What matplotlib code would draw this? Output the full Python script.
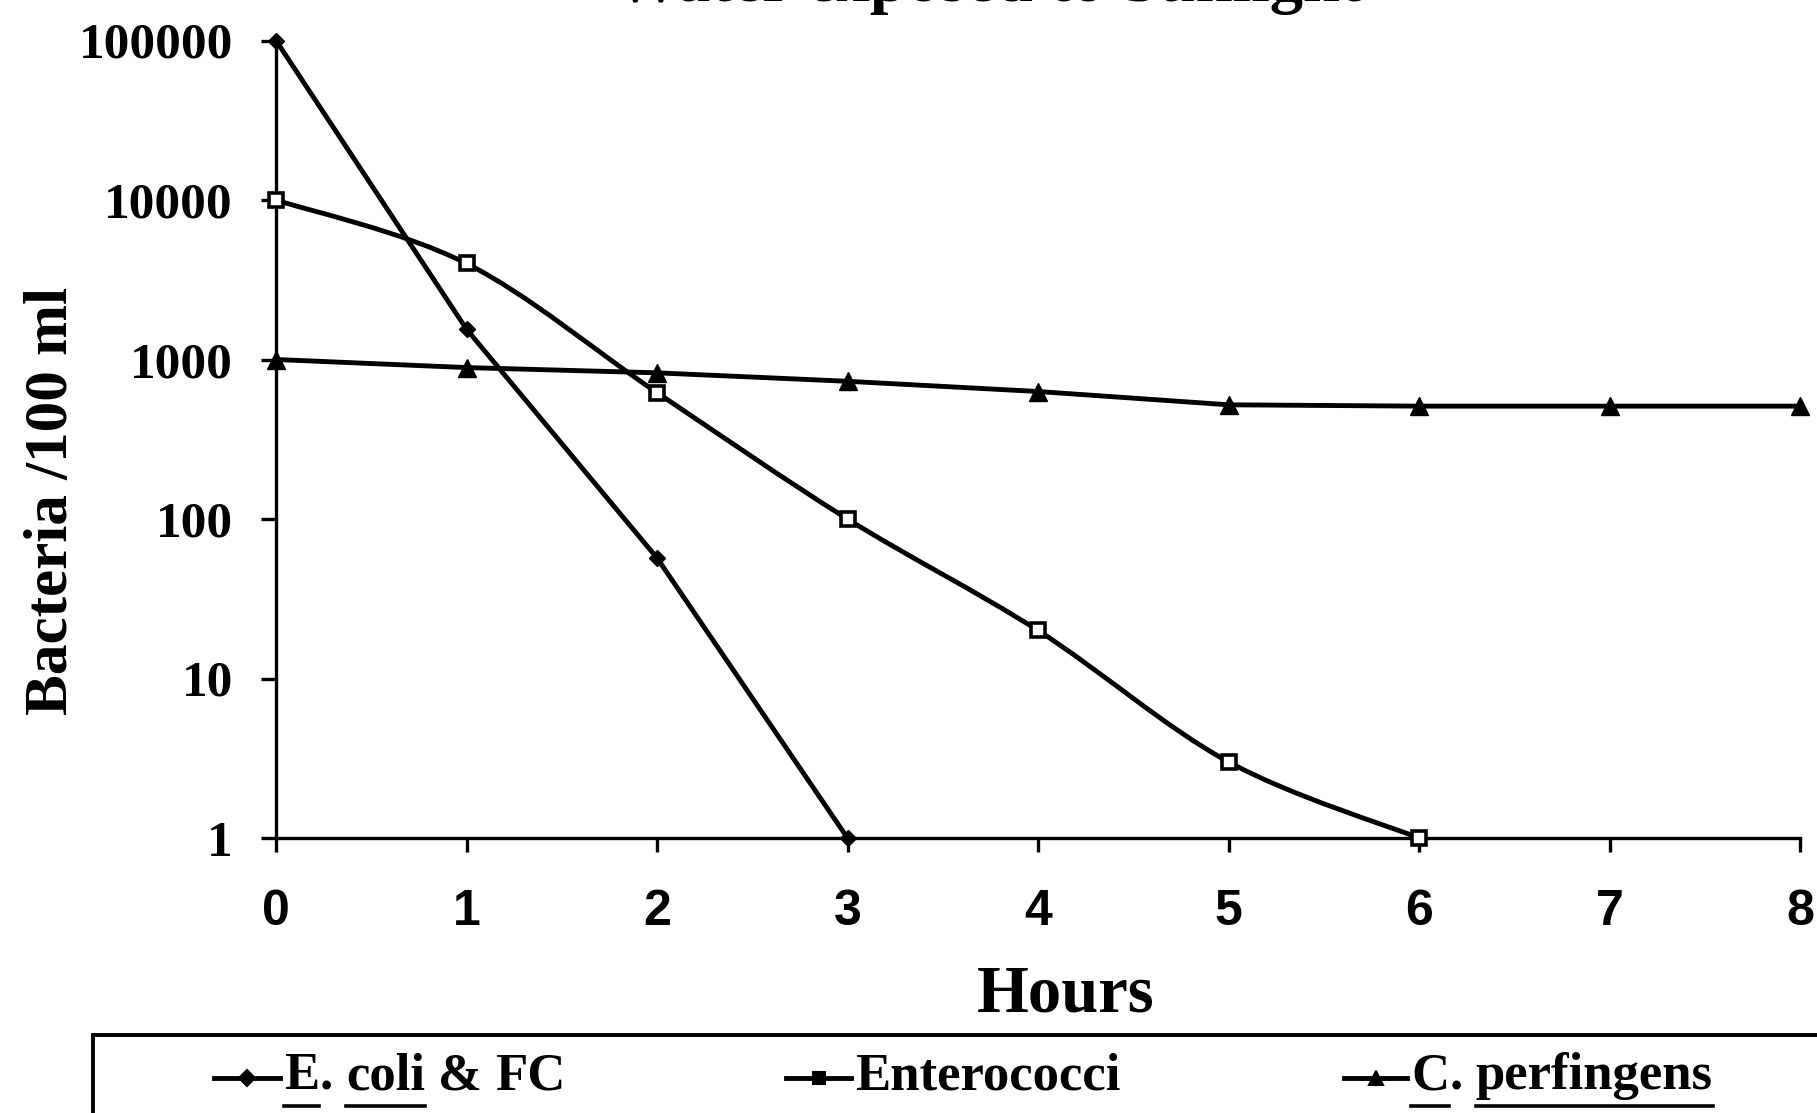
import matplotlib
matplotlib.use('Agg')
import matplotlib.pyplot as plt
import numpy as np
from matplotlib.path import Path
from matplotlib.patches import PathPatch, Rectangle
from matplotlib.lines import Line2D

# Data (bacteria per 100 ml vs hours of sunlight)
hours_ecoli = [0, 1, 2, 3]
ecoli_fc = [100000, 1550, 57, 1]

hours_entero = [0, 1, 2, 3, 4, 5, 6]
enterococci = [10000, 4000, 620, 100, 20, 3, 1]

hours_perf = [0, 1, 2, 3, 4, 5, 6, 7, 8]
c_perfringens = [1000, 890, 825, 730, 630, 520, 510, 510, 510]

x_ticks = [0, 1, 2, 3, 4, 5, 6, 7, 8]
y_ticks = [1, 10, 100, 1000, 10000, 100000]
y_tick_labels = ['1', '10', '100', '1000', '10000', '100000']

W, H = 1817, 1113
SERIF = 'Liberation Serif'
SANS = 'Liberation Sans'


def smooth_path(xs, ys):
    """Excel-style smoothed line: Catmull-Rom segments as cubic Beziers in (x, log y)."""
    lx = np.asarray(xs, dtype=float)
    ly = np.log10(np.asarray(ys, dtype=float))
    n = len(lx)
    verts = [(lx[0], ly[0])]
    codes = [Path.MOVETO]
    for i in range(n - 1):
        p0 = (lx[max(i - 1, 0)], ly[max(i - 1, 0)])
        p1 = (lx[i], ly[i])
        p2 = (lx[i + 1], ly[i + 1])
        p3 = (lx[min(i + 2, n - 1)], ly[min(i + 2, n - 1)])
        c1 = (p1[0] + (p2[0] - p0[0]) / 6, p1[1] + (p2[1] - p0[1]) / 6)
        c2 = (p2[0] - (p3[0] - p1[0]) / 6, p2[1] - (p3[1] - p1[1]) / 6)
        verts += [c1, c2, p2]
        codes += [Path.CURVE4] * 3
    verts = [(vx, 10 ** vy) for vx, vy in verts]
    return Path(verts, codes)


fig = plt.figure(figsize=(W / 100, H / 100), dpi=100)
ax = fig.add_axes([276 / W, 1 - 838 / H, (1800 - 276) / W, (838 - 40.5) / H])

ax.set_yscale('log')
ax.set_xlim(0, 8)
ax.set_ylim(1, 100000)

lw = 3.5
ax.plot(hours_ecoli, ecoli_fc, color='black', lw=lw, marker='D', ms=8,
        mfc='black', mec='black', clip_on=False, zorder=4)

patch = PathPatch(smooth_path(hours_entero, enterococci), fc='none', ec='black',
                  lw=lw, clip_on=False, zorder=3)
ax.add_patch(patch)
ax.plot(hours_entero, enterococci, ls='none', marker='s', ms=10.5, mfc='white',
        mec='black', mew=2.6, clip_on=False, zorder=5)

ax.plot(hours_perf, c_perfringens, color='black', lw=lw, marker='^', ms=13,
        mfc='black', mec='black', clip_on=False, zorder=4)

# axes styling
for side in ['top', 'right']:
    ax.spines[side].set_visible(False)
for side in ['left', 'bottom']:
    ax.spines[side].set_linewidth(2.4)
ax.minorticks_off()
ax.set_yticks(y_ticks)
ax.set_yticklabels(y_tick_labels, fontfamily=SERIF, fontweight='bold', fontsize=37)
ax.set_xticks(x_ticks)
ax.set_xticklabels([str(t) for t in x_ticks], fontfamily=SANS, fontweight='bold',
                   fontsize=36)
ax.tick_params(axis='y', direction='out', length=11, width=2.4, pad=20)
ax.tick_params(axis='x', direction='out', length=10, width=2.4, pad=27)

# title (only its lower edge survives at the top of the scan)
fig.text(988 / W, 1 - 1 / H, 'Water exposed to Sunlight', ha='center', va='baseline',
         fontfamily=SERIF, fontweight='bold', fontsize=48)

fig.text(1066 / W, 101 / H, 'Hours', ha='center', va='baseline',
         fontfamily=SERIF, fontweight='bold', fontsize=48)
fig.text(52 / W, 612 / H, 'Bacteria /100 ml', ha='center', va='center', rotation=90,
         fontfamily=SERIF, fontweight='bold', fontsize=44)

# legend box, running off the bottom-right corner as in the scan
fig.patches.append(Rectangle((93 / W, -0.05), 1.1, (1113 - 1035) / H + 0.05,
                             transform=fig.transFigure, fill=False, ec='black',
                             lw=2.8, clip_on=False))

renderer = fig.canvas.get_renderer()
text_kw = dict(fontfamily=SERIF, fontweight='bold', fontsize=38)
base_y = 24  # legend baseline, px from bottom


def text_width(s):
    t = fig.text(0, 0, s, **text_kw)
    w = t.get_window_extent(renderer).width
    t.remove()
    return w


space_w = text_width('a a') - text_width('aa')


def legend_entry(x_line, x_text, pieces, marker, ms, mfc):
    fig.lines.append(Line2D([x_line / W, (x_text - 4) / W], [(base_y + 11) / H] * 2,
                            transform=fig.transFigure, color='black', lw=lw))
    fig.lines.append(Line2D([(x_line + x_text - 4) / 2 / W], [(base_y + 11) / H],
                            transform=fig.transFigure, marker=marker, ms=ms, mfc=mfc,
                            mec='black', mew=1.5, ls='none'))
    x = x_text
    for s, underline, gap in pieces:
        t = fig.text(x / W, base_y / H, s, va='baseline', ha='left', **text_kw)
        w = t.get_window_extent(renderer).width
        if underline:
            fig.lines.append(Line2D([x / W, (x + w) / W], [(base_y - 17) / H] * 2,
                                    transform=fig.transFigure, color='black', lw=2.6))
        x += w + (space_w if gap else 0)


legend_entry(214, 284, [('E', True, False), ('.', False, True), ('coli', True, True),
                        ('&', False, True), ('FC', False, False)], 'D', 8, 'black')
legend_entry(786, 855, [('Enterococci', False, False)], 's', 8, 'black')
legend_entry(1344, 1411, [('C', True, False), ('.', False, True),
                          ('perfingens', True, False)], '^', 10, 'black')

fig.savefig('out.png', dpi=100, facecolor='white')
